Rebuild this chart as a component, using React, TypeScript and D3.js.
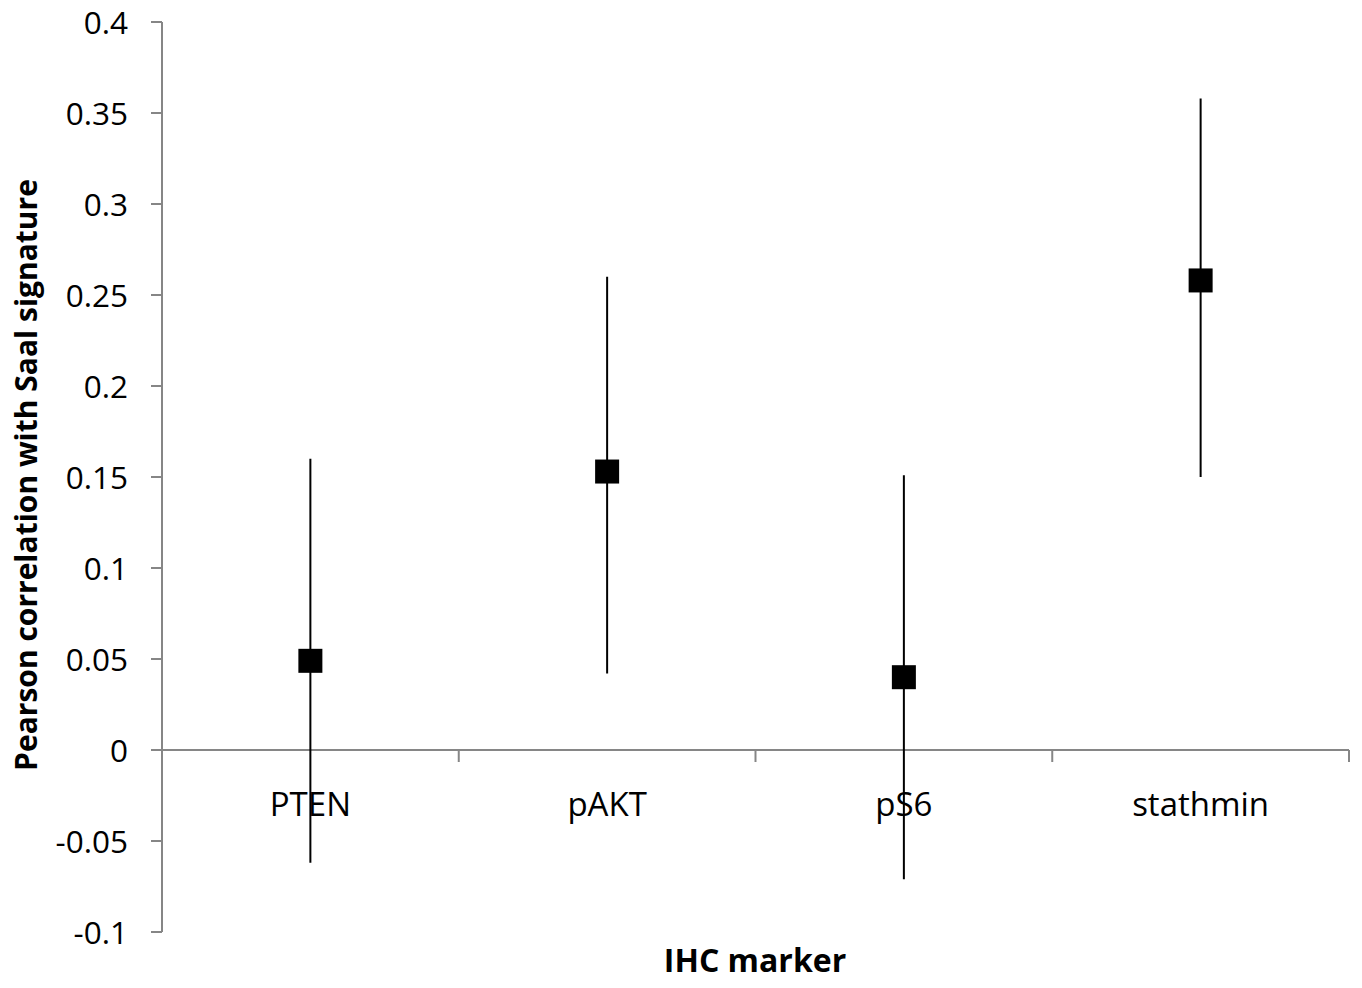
import React from "react";
import * as d3 from "d3";

const categories = ["PTEN", "pAKT", "pS6", "stathmin"];
const estimates = [0.049, 0.153, 0.040, 0.258];
const upperCI = [0.160, 0.260, 0.151, 0.358];
const lowerCI = [-0.062, 0.042, -0.071, 0.150];
const yTicks = [-0.1, -0.05, 0, 0.05, 0.1, 0.15, 0.2, 0.25, 0.3, 0.35, 0.4];

const W = 1362;
const H = 988;
const left = 162;
const right = 1349;
const top = 22;
const bottom = 932;
const font = "'Open Sans', 'Liberation Sans', sans-serif";

export default function App() {
  const y = d3.scaleLinear().domain([-0.1, 0.4]).range([bottom, top]);
  const x = d3.scaleBand().domain(categories).range([left, right]).padding(0);
  const y0 = y(0);
  const fmt = (v: number) => String(Math.round(v * 100) / 100);
  const axisColor = "#868686";
  const boundaries = d3.range(categories.length + 1).map((i) => left + i * x.bandwidth());
  const sq = 24;
  return (
    <svg width={W} height={H} style={{ position: "absolute", left: 0, top: 0, background: "#fff" }}>
      <rect x={0} y={0} width={W} height={H} fill="#fff" />
      {/* y axis */}
      <line x1={left} x2={left} y1={top} y2={bottom} stroke={axisColor} strokeWidth={2} />
      {yTicks.map((t) => (
        <g key={t}>
          <line x1={left - 11} x2={left} y1={y(t)} y2={y(t)} stroke={axisColor} strokeWidth={2} />
          <text x={128} y={y(t)} dy="0.38em" textAnchor="end" fontFamily={font} fontSize={31.5} fill="#000">
            {fmt(t)}
          </text>
        </g>
      ))}
      {/* x axis at zero */}
      <line x1={left} x2={right} y1={y0} y2={y0} stroke={axisColor} strokeWidth={2} />
      {boundaries.map((b, i) => (
        <line key={i} x1={b} x2={b} y1={y0} y2={y0 + 12} stroke={axisColor} strokeWidth={2} />
      ))}
      {categories.map((c) => (
        <text key={c} x={(x(c) as number) + x.bandwidth() / 2} y={816} textAnchor="middle" fontFamily={font} fontSize={33} fill="#000">
          {c}
        </text>
      ))}
      {/* error bars and markers */}
      {categories.map((c, i) => {
        const cx = (x(c) as number) + x.bandwidth() / 2;
        return (
          <g key={c}>
            <line x1={cx} x2={cx} y1={y(upperCI[i])} y2={y(lowerCI[i])} stroke="#000" strokeWidth={2} />
            <rect x={cx - sq / 2} y={y(estimates[i]) - sq / 2} width={sq} height={sq} fill="#000" />
          </g>
        );
      })}
      {/* titles */}
      <text x={755} y={972} textAnchor="middle" fontFamily={font} fontWeight="bold" fontSize={32} fill="#000">
        IHC marker
      </text>
      <text transform={`translate(37,${475}) rotate(-90)`} textAnchor="middle" fontFamily={font} fontWeight="bold" fontSize={30} fill="#000">
        Pearson correlation with Saal signature
      </text>
    </svg>
  );
}
